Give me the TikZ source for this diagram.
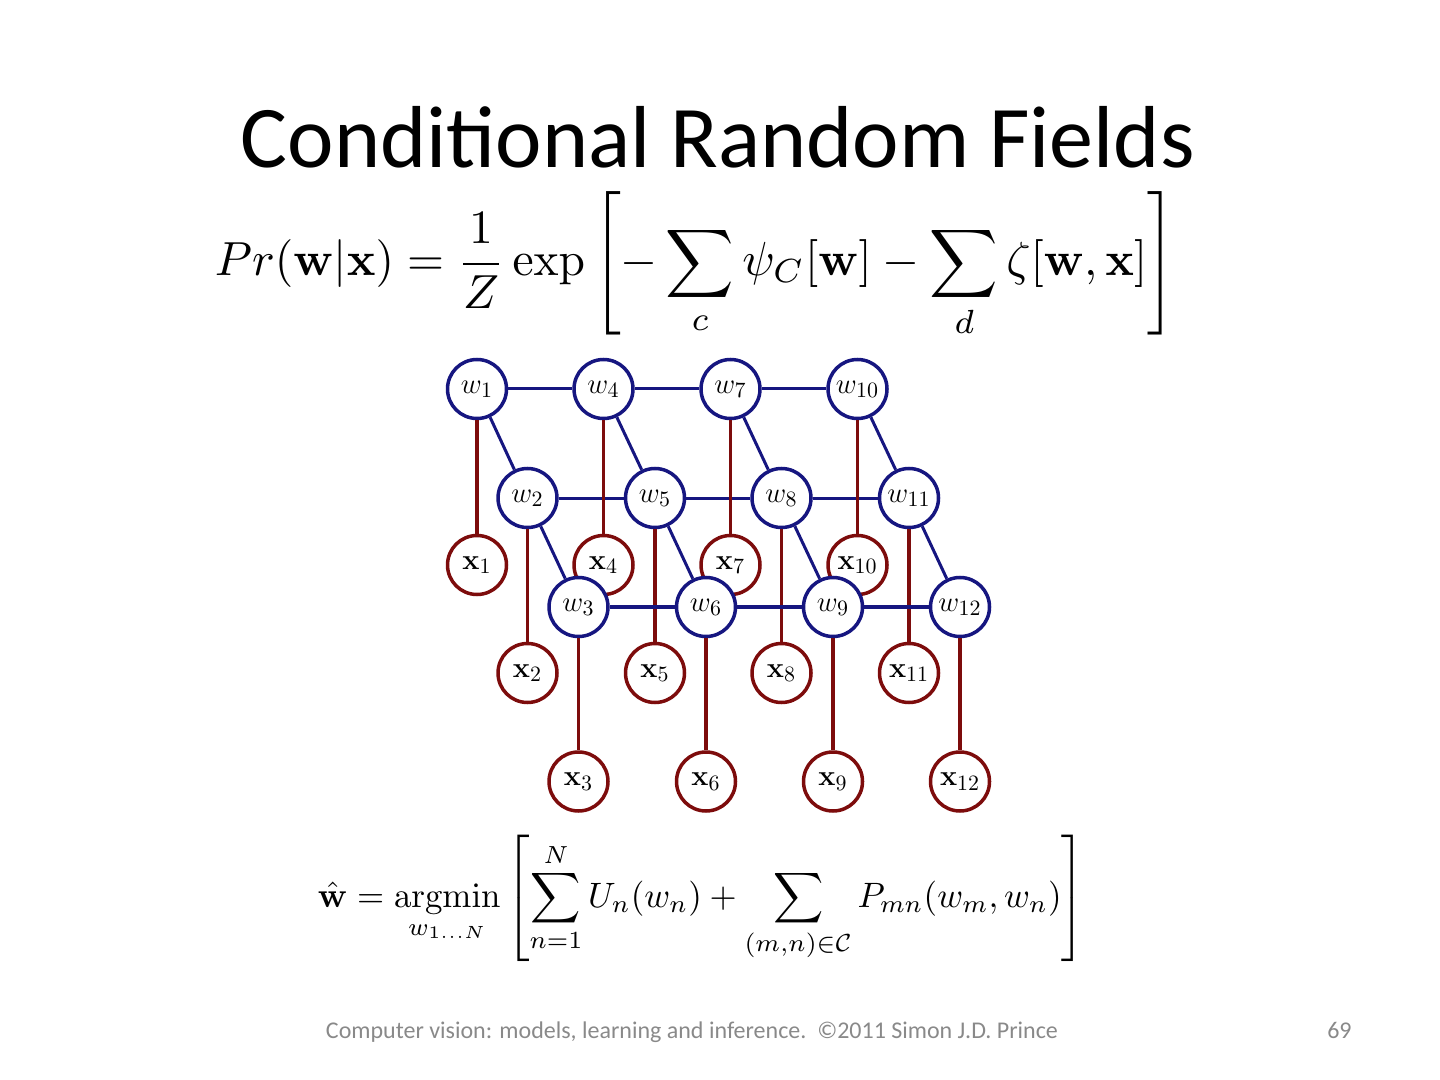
\documentclass[tikz,border=0pt]{standalone}
\usepackage[no-math]{fontspec}
\usepackage{amsmath}
\usepackage{graphicx}
\newfontfamily\calibri{Carlito}
\definecolor{wblue}{RGB}{22,22,128}
\definecolor{xred}{RGB}{125,12,12}
\definecolor{footgray}{RGB}{137,137,137}
\tikzset{
  wnode/.style={circle, draw=wblue, fill=white, line width=1.75pt, minimum size=29.5pt, inner sep=0pt, font=\fontsize{15}{18}\selectfont},
  xnode/.style={circle, draw=xred, fill=white, line width=1.75pt, minimum size=29.5pt, inner sep=0pt, font=\fontsize{15}{18}\selectfont},
  bedge/.style={draw=wblue, line width=1.5pt},
  bedgethick/.style={draw=wblue, line width=2pt},
  redge/.style={draw=xred, line width=1.6pt},
}
\begin{document}
\begin{tikzpicture}[x=0.5pt,y=-0.5pt]
\useasboundingbox (0,0) rectangle (1440,1080);
% title
\node[anchor=base, inner sep=0pt, font=\calibri\fontsize{44}{50}\selectfont] (title) at (718,168) {Conditional Random Fields};
% top equation
\node[inner sep=0pt] (eqtop) at (695,265) {\resizebox*{480pt}{73pt}{$\displaystyle Pr(\mathbf{w}|\mathbf{x}) = \frac{1}{Z}\exp\left[-\sum_{c}\psi_C[\mathbf{w}] - \sum_{d}\zeta[\mathbf{w},\mathbf{x}]\right]$}};
% bottom equation
\node[inner sep=0pt] (eqbot) at (701.5,898.5) {\resizebox*{383.5pt}{63.5pt}{$\displaystyle \hat{\mathbf{w}} = \operatorname*{argmin}_{w_{1\ldots N}}\left[\sum_{n=1}^{N} U_n(w_n) + \sum_{(m,n)\in\mathcal{C}} P_{mn}(w_m,w_n)\right]$}};
% x nodes
\node[xnode] (x1) at (477,565) {$\mathbf{x}_1$};
\node[xnode] (x4) at (603.5,565) {$\mathbf{x}_4$};
\node[xnode] (x7) at (730.5,565) {$\mathbf{x}_7$};
\node[xnode] (x10) at (857.5,565) {$\mathbf{x}_{10}$};
\node[xnode] (x2) at (527.5,673) {$\mathbf{x}_2$};
\node[xnode] (x5) at (655,673) {$\mathbf{x}_5$};
\node[xnode] (x8) at (781.5,673) {$\mathbf{x}_8$};
\node[xnode] (x11) at (909,673) {$\mathbf{x}_{11}$};
\node[xnode] (x3) at (578.5,781.5) {$\mathbf{x}_3$};
\node[xnode] (x6) at (706,781.5) {$\mathbf{x}_6$};
\node[xnode] (x9) at (833,781.5) {$\mathbf{x}_9$};
\node[xnode] (x12) at (960,781.5) {$\mathbf{x}_{12}$};
% w nodes
\node[wnode] (w1) at (477,389) {$w_1$};
\node[wnode] (w4) at (603.5,389) {$w_4$};
\node[wnode] (w7) at (730.5,389) {$w_7$};
\node[wnode] (w10) at (857.5,389) {$w_{10}$};
\node[wnode] (w2) at (527.5,498) {$w_2$};
\node[wnode] (w5) at (655,498) {$w_5$};
\node[wnode] (w8) at (781.5,498) {$w_8$};
\node[wnode] (w11) at (909,498) {$w_{11}$};
\node[wnode] (w3) at (578.5,607) {$w_3$};
\node[wnode] (w6) at (706,607) {$w_6$};
\node[wnode] (w9) at (833,607) {$w_9$};
\node[wnode] (w12) at (960,607) {$w_{12}$};
% row 1 and row 2 horizontal edges
\draw[bedge] (w1) -- (w4) (w4) -- (w7) (w7) -- (w10);
\draw[bedge] (w2) -- (w5) (w5) -- (w8) (w8) -- (w11);
% diagonals
\draw[bedge] (w1) -- (w2) (w2) -- (w3);
\draw[bedge] (w4) -- (w5) (w5) -- (w6);
\draw[bedge] (w7) -- (w8) (w8) -- (w9);
\draw[bedge] (w10) -- (w11) (w11) -- (w12);
% red observation edges
\draw[redge] (w1) -- (x1) (w4) -- (x4) (w7) -- (x7) (w10) -- (x10);
\draw[redge] (w2) -- (x2) (w5) -- (x5) (w8) -- (x8) (w11) -- (x11);
\draw[redge] (w3) -- (x3) (w6) -- (x6) (w9) -- (x9) (w12) -- (x12);
% row 3 horizontal edges (on top)
\draw[bedgethick] (w3) -- (w6) (w6) -- (w9) (w9) -- (w12);
% footer
\node[anchor=base, inner sep=0pt, text=footgray, font=\calibri\fontsize{12}{14}\selectfont] (foot) at (692,1038) {Computer vision: models, learning and inference.\ \ ©2011 Simon J.D. Prince};
\node[anchor=base east, inner sep=0pt, text=footgray, font=\calibri\fontsize{12}{14}\selectfont] (page) at (1352,1038) {69};
\end{tikzpicture}
\end{document}
